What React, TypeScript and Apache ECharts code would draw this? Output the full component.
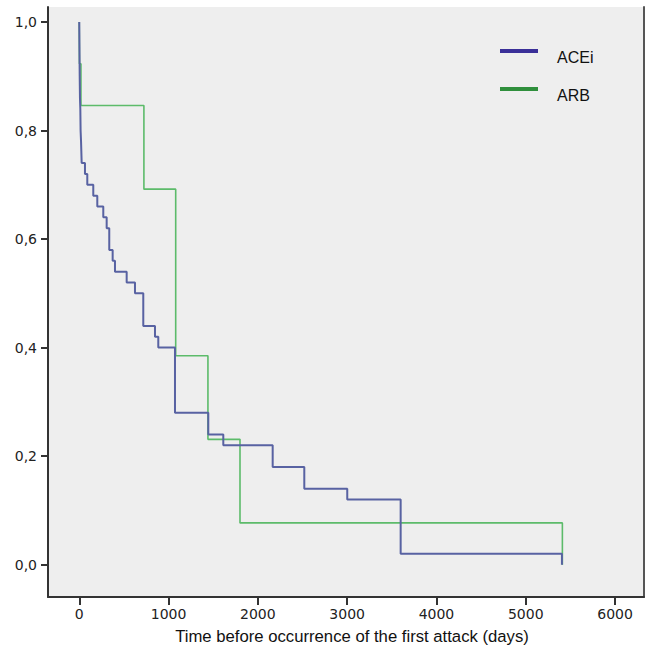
import React, { useEffect, useRef } from "react";
import * as echarts from "echarts";

// Kaplan-Meier steps: [time (days), survival after event]
const aceiTimes = [0, 3, 5, 8, 12, 15, 20, 27, 64, 90, 157, 202, 269, 307, 336, 374, 400, 531, 624, 717, 848, 885, 1072, 1445, 1613, 2166, 2520, 3001, 3599, 5405];
const aceiSurv = [1.0, 0.94, 0.9, 0.86, 0.84, 0.8, 0.78, 0.74, 0.72, 0.7, 0.68, 0.66, 0.64, 0.62, 0.58, 0.56, 0.54, 0.52, 0.5, 0.44, 0.42, 0.4, 0.28, 0.24, 0.22, 0.18, 0.14, 0.12, 0.02, 0.0];

const arbTimes = [0, 2, 19, 724, 1080, 1441, 1800, 5410];
const arbSurv = [1.0, 0.923, 0.846, 0.692, 0.385, 0.231, 0.077, 0.0];

const xTicks = [0, 1000, 2000, 3000, 4000, 5000, 6000];
const yTicks = [0, 0.2, 0.4, 0.6, 0.8, 1.0];

const seriesNames = ["ACEi", "ARB"];
const xTitle = "Time before occurrence of the first attack (days)";

export default function App() {
  const ref = useRef<HTMLDivElement>(null);
  useEffect(() => {
    document.body.style.margin = "0";
    const chart = echarts.init(ref.current!, null, { renderer: "svg" });
    const axisColor = "#333";
    const zip = (t: number[], s: number[]) => t.map((v, i) => [v, s[i]]);
    chart.setOption({
      animation: false,
      backgroundColor: "#ffffff",
      grid: {
        left: 48,
        right: 2,
        top: 7,
        bottom: 58,
        show: true,
        backgroundColor: "#eeeeee",
        borderWidth: 0,
      },
      legend: {
        orient: "vertical",
        left: 500,
        top: 49,
        padding: 0,
        itemWidth: 38,
        itemHeight: 4,
        itemGap: 22,
        icon: "rect",
        formatter: (name: string) => `{t|${name}}`,
        textStyle: {
          fontFamily: "Liberation Sans",
          fontSize: 16,
          color: "#111",
          rich: {
            t: {
              fontFamily: "Liberation Sans",
              fontSize: 16,
              color: "#111",
              padding: [12, 0, 0, 14],
            },
          },
        },
        data: [
          { name: seriesNames[0], itemStyle: { color: "#3a2f98" } },
          { name: seriesNames[1], itemStyle: { color: "#2f8f3c" } },
        ],
      },
      xAxis: {
        type: "value",
        min: -350,
        max: 6324,
        name: xTitle,
        nameLocation: "middle",
        nameGap: 31,
        nameTextStyle: {
          fontFamily: "Liberation Sans",
          fontSize: 16.7,
          color: "#111",
          padding: [0, 0, 0, 12],
        },
        axisLine: { show: true, onZero: false, lineStyle: { color: axisColor, width: 2 } },
        axisTick: {
          show: true,
          length: 8,
          lineStyle: { color: axisColor, width: 2 },
          customValues: xTicks,
        },
        axisLabel: {
          customValues: xTicks,
          margin: 10,
          fontFamily: "DejaVu Sans",
          fontSize: 14,
          color: "#222",
          formatter: (v: number) => String(v),
        },
        splitLine: { show: false },
      },
      yAxis: [
        {
          type: "value",
          min: -0.0595,
          max: 1.0276,
          axisLine: { show: true, onZero: false, lineStyle: { color: axisColor, width: 2 } },
          axisTick: {
            show: true,
            length: 7,
            lineStyle: { color: axisColor, width: 2 },
            customValues: yTicks,
          },
          axisLabel: {
            customValues: yTicks,
            margin: 11,
            fontFamily: "DejaVu Sans",
            fontSize: 14,
            color: "#222",
            formatter: (v: number) => v.toFixed(1).replace(".", ","),
          },
          splitLine: { show: false },
        },
        {
          type: "value",
          position: "right",
          min: -0.0595,
          max: 1.0276,
          axisLine: { show: true, onZero: false, lineStyle: { color: "#555", width: 2 } },
          axisTick: { show: false },
          axisLabel: { show: false },
          splitLine: { show: false },
        },
      ],
      series: [
        {
          name: seriesNames[0],
          type: "line",
          step: "end",
          showSymbol: false,
          symbol: "none",
          data: zip(aceiTimes, aceiSurv),
          lineStyle: { color: "#5862a2", width: 2 },
          itemStyle: { color: "#5862a2" },
          z: 3,
        },
        {
          name: seriesNames[1],
          type: "line",
          step: "end",
          showSymbol: false,
          symbol: "none",
          data: zip(arbTimes, arbSurv),
          lineStyle: { color: "#5cbb6a", width: 1.6 },
          itemStyle: { color: "#5cbb6a" },
          z: 2,
        },
      ],
    });
    return () => chart.dispose();
  }, []);
  return <div ref={ref} style={{ width: 646, height: 655 }} />;
}
